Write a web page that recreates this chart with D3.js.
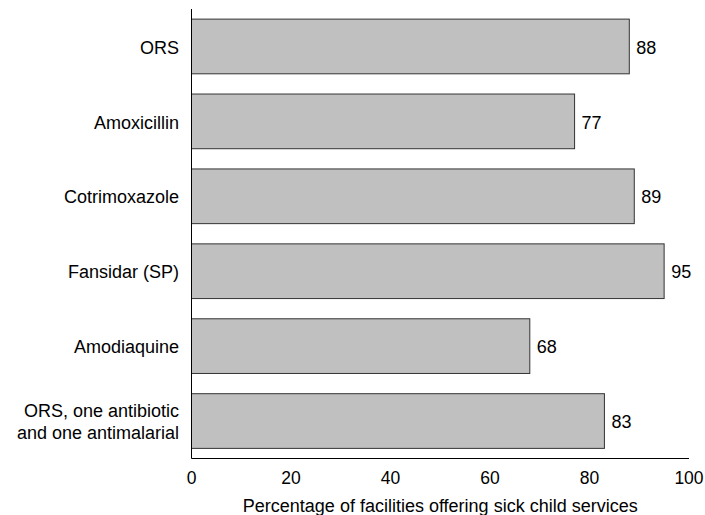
<!DOCTYPE html>
<html lang="en">
<head>
<meta charset="utf-8">
<script src="https://d3js.org/d3.v7.min.js"></script>
<style>
  body { margin: 0; background: #fff; }
  text { font-family: "Liberation Sans", Arial, sans-serif; fill: #000; }
</style>
</head>
<body>
<script>

// data
const categories = ["ORS", "Amoxicillin", "Cotrimoxazole", "Fansidar (SP)", "Amodiaquine", "ORS, one antibiotic|and one antimalarial"];
const values = [88, 77, 89, 95, 68, 83];
const xTicks = [0, 20, 40, 60, 80, 100];
const xTitle = "Percentage of facilities offering sick child services";

const width = 705, height = 515;

const svg = d3.select("body").append("svg")
  .attr("width", width)
  .attr("height", height);

const x = d3.scaleLinear().domain([0, 100]).range([191.5, 689]);
const y = d3.scaleBand().domain(categories).range([9, 458.5])
  .paddingInner(0.27).paddingOuter(0.135);

// bars
svg.selectAll("rect.bar")
  .data(categories)
  .enter().append("rect")
  .attr("class", "bar")
  .attr("x", x(0))
  .attr("y", d => y(d))
  .attr("width", (d, i) => x(values[i]) - x(0))
  .attr("height", y.bandwidth())
  .attr("fill", "#c0c0c0")
  .attr("stroke", "#333")
  .attr("stroke-width", 1);

// value labels
svg.selectAll("text.val")
  .data(categories)
  .enter().append("text")
  .attr("class", "val")
  .attr("x", (d, i) => x(values[i]) + 7)
  .attr("y", d => y(d) + y.bandwidth() / 2)
  .attr("dy", "0.4em")
  .attr("font-size", 18)
  .text((d, i) => values[i]);

// category labels
const lab = svg.selectAll("text.cat")
  .data(categories)
  .enter().append("text")
  .attr("class", "cat")
  .attr("text-anchor", "end")
  .attr("font-size", 18)
  .attr("y", d => y(d) + y.bandwidth() / 2);

lab.each(function(d) {
  const lines = d.split("|");
  const t = d3.select(this);
  lines.forEach((l, j) => {
    t.append("tspan")
      .attr("x", 179)
      .attr("dy", j == 0 ? (lines.length > 1 ? "-0.22em" : "0.4em") : "1.2em")
      .text(l);
  });
});

// axes lines
svg.append("line")
  .attr("x1", x(0)).attr("x2", x(0))
  .attr("y1", 9).attr("y2", 458.5)
  .attr("stroke", "#000");
svg.append("line")
  .attr("x1", x(0)).attr("x2", x(100))
  .attr("y1", 458.5).attr("y2", 458.5)
  .attr("stroke", "#000");

// tick labels
svg.selectAll("text.tick")
  .data(xTicks)
  .enter().append("text")
  .attr("class", "tick")
  .attr("x", d => x(d))
  .attr("y", 484)
  .attr("text-anchor", "middle")
  .attr("font-size", 17.5)
  .text(d => d);

svg.append("text")
  .attr("x", (x(0) + x(100)) / 2)
  .attr("y", 512)
  .attr("text-anchor", "middle")
  .attr("font-size", 18)
  .text(xTitle);

</script>
</body>
</html>
